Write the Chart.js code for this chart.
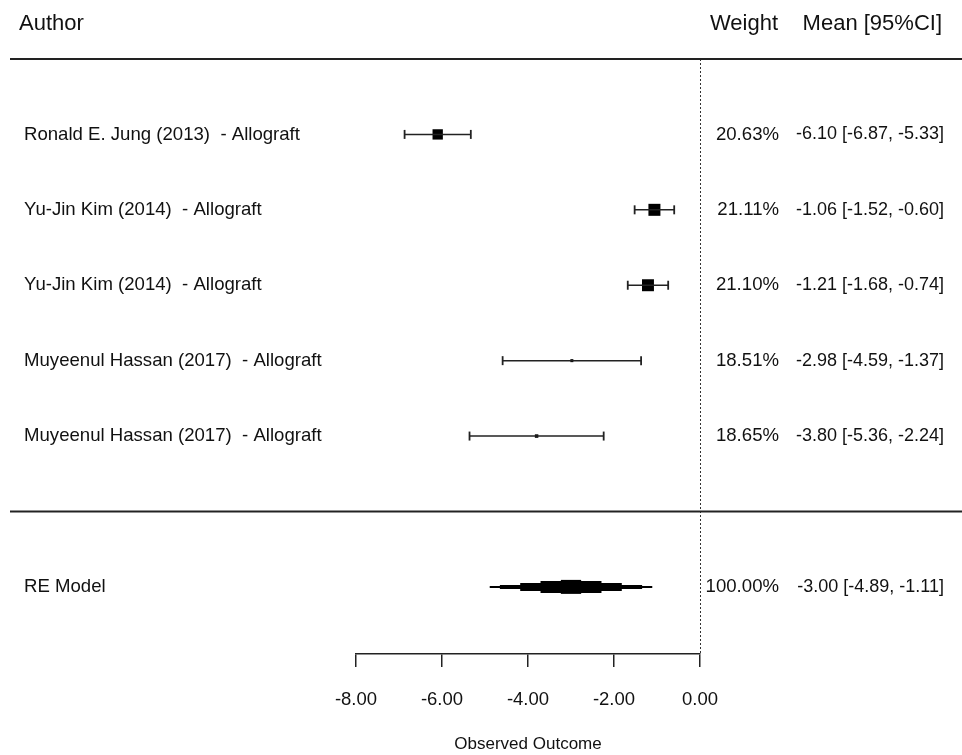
<!DOCTYPE html>
<html>
<head>
<meta charset="utf-8">
<script src="https://cdn.jsdelivr.net/npm/chart.js@4.4.0/dist/chart.umd.min.js"></script>
<style>
html,body{margin:0;padding:0;background:#fff;}
</style>
</head>
<body>
<canvas id="forest" width="962" height="755"></canvas>
<script>
// study data
const authors = [
    'Ronald E. Jung (2013)  - Allograft',
    'Yu-Jin Kim (2014)  - Allograft',
    'Yu-Jin Kim (2014)  - Allograft',
    'Muyeenul Hassan (2017)  - Allograft',
    'Muyeenul Hassan (2017)  - Allograft'
];
const weights = [20.63, 21.11, 21.10, 18.51, 18.65];
const means = [-6.10, -1.06, -1.21, -2.98, -3.80];
const lower = [-6.87, -1.52, -1.68, -4.59, -5.36];
const upper = [-5.33, -0.60, -0.74, -1.37, -2.24];

// pooled model
const reLabel = 'RE Model';
const reWeight = 100.00;
const reMean = -3.00;
const reLower = -4.89;
const reUpper = -1.11;

const xTicks = [-8, -6, -4, -2, 0];

const fontFam = '"Liberation Sans", Arial, sans-serif';
const ink = '#111';

// square size follows the weight (like metafor psize)
const wMin = Math.min(...weights), wMax = Math.max(...weights);
const boxRadius = weights.map(w => (3 + (w - wMin) / (wMax - wMin) * 9) / Math.SQRT2);

let datasets = [];

authors.forEach((a, i) => {
    datasets.push({
        data: [{x: lower[i], y: i + 1}, {x: upper[i], y: i + 1}],
        showLine: true,
        borderColor: '#222',
        borderWidth: 1.5,
        pointStyle: 'line',
        rotation: 90,
        pointRadius: 4.5,
        pointBorderWidth: 1.8,
        pointBorderColor: '#222'
    });
});

datasets.push({
    data: means.map((m, i) => ({x: m, y: i + 1})),
    pointStyle: 'rect',
    pointRadius: boxRadius,
    backgroundColor: '#000',
    borderWidth: 0
});

// diamond drawn as stacked steps
const stepFrac = [1, 0.875, 0.625, 0.375, 0.125];
const stepWidth = [2, 4, 8, 12, 14];
stepFrac.forEach((f, k) => {
    datasets.push({
        data: [{x: reMean - (reMean - reLower) * f, y: 7}, {x: reMean + (reUpper - reMean) * f, y: 7}],
        showLine: true,
        borderColor: '#000',
        borderWidth: stepWidth[k],
        borderCapStyle: 'butt',
        pointRadius: 0
    });
});

const forestText = {
    id: 'forestText',
    beforeDatasetsDraw(chart) {
        const ctx = chart.ctx;
        const xs = chart.scales.x, ys = chart.scales.y;
        ctx.save();
        // dotted reference line at 0
        ctx.strokeStyle = '#333';
        ctx.lineWidth = 1;
        ctx.setLineDash([2, 2]);
        ctx.beginPath();
        ctx.moveTo(Math.round(xs.getPixelForValue(0)) + 0.5, ys.getPixelForValue(0));
        ctx.lineTo(Math.round(xs.getPixelForValue(0)) + 0.5, chart.chartArea.bottom);
        ctx.stroke();
        ctx.setLineDash([]);
        // horizontal rules
        ctx.strokeStyle = '#222';
        ctx.lineWidth = 2;
        [0, 6].forEach(v => {
            const y = ys.getPixelForValue(v);
            ctx.beginPath();
            ctx.moveTo(10, y);
            ctx.lineTo(962, y);
            ctx.stroke();
        });
        ctx.restore();
    },
    afterDraw(chart) {
        const ctx = chart.ctx;
        const ys = chart.scales.y;
        ctx.save();
        ctx.fillStyle = ink;
        ctx.textBaseline = 'middle';
        // header
        ctx.font = '22px ' + fontFam;
        ctx.textAlign = 'left';
        ctx.fillText('Author', 19, 24);
        ctx.textAlign = 'right';
        ctx.fillText('Weight', 778, 24);
        ctx.fillText('Mean [95%CI]', 942, 24);
        // rows
        const rowText = (label, w, m, lo, hi, y) => {
            ctx.font = '18.6px ' + fontFam;
            ctx.textAlign = 'left';
            ctx.fillText(label, 24, y);
            ctx.textAlign = 'right';
            ctx.fillText(w.toFixed(2) + '%', 779, y);
            ctx.font = '18px ' + fontFam;
            ctx.fillText(m.toFixed(2) + ' [' + lo.toFixed(2) + ', ' + hi.toFixed(2) + ']', 944, y);
        };
        authors.forEach((a, i) => {
            rowText(a, weights[i], means[i], lower[i], upper[i], ys.getPixelForValue(i + 1));
        });
        rowText(reLabel, reWeight, reMean, reLower, reUpper, ys.getPixelForValue(7));
        ctx.restore();
    }
};

new Chart(document.getElementById('forest'), {
    type: 'scatter',
    data: {datasets: datasets},
    options: {
        responsive: false,
        animation: false,
        devicePixelRatio: 1,
        layout: {padding: {top: 59, left: 356, right: 262, bottom: 0}},
        plugins: {
            legend: {display: false},
            tooltip: {enabled: false}
        },
        scales: {
            x: {
                type: 'linear',
                min: -8,
                max: 0,
                afterBuildTicks: s => { s.ticks = xTicks.map(v => ({value: v})); },
                afterFit: s => { s.height = 101; },
                grid: {drawOnChartArea: false, drawTicks: true, tickLength: 13, color: '#222', lineWidth: 1.5},
                border: {display: true, color: '#222', width: 1.5},
                ticks: {
                    color: ink,
                    padding: 22,
                    font: {size: 18.5, family: fontFam},
                    callback: v => Number(v).toFixed(2)
                },
                title: {
                    display: true,
                    text: 'Observed Outcome',
                    color: ink,
                    font: {size: 17, family: fontFam},
                    padding: {top: 0, bottom: 0}
                }
            },
            y: {
                type: 'linear',
                min: 0,
                max: 7.89,
                reverse: true,
                display: false
            }
        }
    },
    plugins: [forestText]
});
</script>
</body>
</html>
